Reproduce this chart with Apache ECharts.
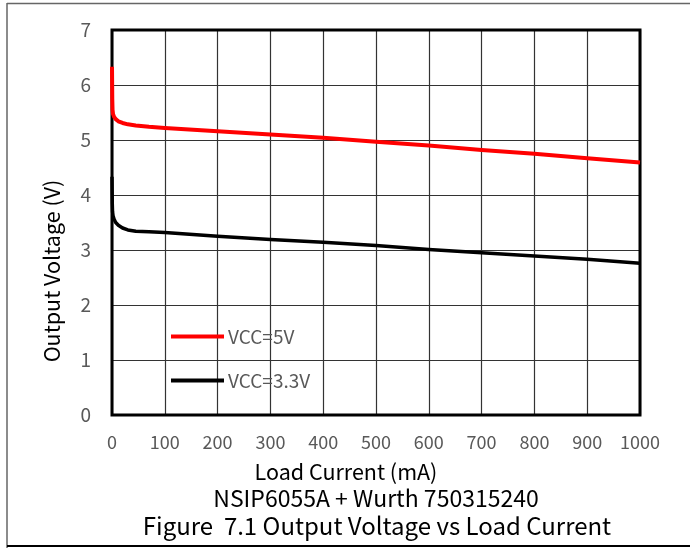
<!DOCTYPE html>
<html>
<head>
<meta charset="utf-8">
<script src="https://cdn.jsdelivr.net/npm/echarts@6/dist/echarts.min.js"></script>
<style>html,body{margin:0;padding:0;background:#fff}#c{width:690px;height:550px}</style>
</head>
<body>
<div id="c"></div>
<script>
const FONT = '"Noto Sans CJK SC", "Noto Sans", sans-serif';
const xTicks = [0, 100, 200, 300, 400, 500, 600, 700, 800, 900, 1000];
const yTicks = [0, 1, 2, 3, 4, 5, 6, 7];
const seriesNames = ['VCC=5V', 'VCC=3.3V'];
const current5V = [0, 0.5, 1, 2, 4, 7, 12, 20, 30, 45, 70, 100, 200, 300, 400, 500, 600, 700, 800, 900, 1000];
const voltage5V = [6.33, 5.75, 5.55, 5.47, 5.42, 5.38, 5.34, 5.31, 5.285, 5.265, 5.24, 5.22, 5.16, 5.10, 5.04, 4.97, 4.90, 4.82, 4.75, 4.67, 4.59];
const current33V = [0, 0.5, 1, 2, 4, 7, 12, 20, 30, 45, 70, 100, 200, 300, 400, 500, 600, 700, 800, 900, 1000];
const voltage33V = [4.33, 3.85, 3.7, 3.62, 3.56, 3.5, 3.45, 3.4, 3.365, 3.34, 3.33, 3.32, 3.25, 3.19, 3.14, 3.08, 3.01, 2.95, 2.89, 2.83, 2.76];

const pairs = (xs, ys) => xs.map((x, i) => [x, ys[i]]);
const chart = echarts.init(document.getElementById('c'), null, {renderer: 'canvas'});
chart.setOption({
  animation: false,
  textStyle: {fontFamily: FONT},
  grid: {left: 112, right: 50, top: 30, bottom: 135, show: true, borderColor: '#000', borderWidth: 3, z: 3},
  xAxis: {
    type: 'value', min: 0, max: 1000, interval: 100,
    axisLine: {show: false}, axisTick: {show: false},
    axisLabel: {color: '#595959', fontSize: 18, margin: 18, fontFamily: FONT,
      formatter: v => xTicks.includes(v) ? String(v) : ''},
    splitLine: {show: true, lineStyle: {color: '#333', width: 1.2}}
  },
  yAxis: {
    type: 'value', min: 0, max: 7, interval: 1,
    axisLine: {show: false}, axisTick: {show: false},
    axisLabel: {color: '#595959', fontSize: 19, margin: 21, fontFamily: FONT,
      formatter: v => yTicks.includes(v) ? String(v) : ''},
    splitLine: {show: true, lineStyle: {color: '#333', width: 1.2}}
  },
  legend: [
    {data: [seriesNames[0]], left: 171, top: 327, orient: 'vertical', icon: 'rect', itemWidth: 53, itemHeight: 4, itemGap: 5, padding: 0,
      textStyle: {color: '#595959', fontSize: 19, fontFamily: FONT, padding: [0, 0, 0, -1]}},
    {data: [seriesNames[1]], left: 171, top: 371, orient: 'vertical', icon: 'rect', itemWidth: 53, itemHeight: 4, itemGap: 5, padding: 0,
      textStyle: {color: '#595959', fontSize: 19, fontFamily: FONT, padding: [0, 0, 0, -1]}}
  ],
  series: [
    {name: seriesNames[0], type: 'line', data: pairs(current5V, voltage5V), showSymbol: false, smooth: false,
      lineStyle: {color: '#ff0000', width: 4, join: 'round'}, itemStyle: {color: '#ff0000'}, z: 4},
    {name: seriesNames[1], type: 'line', data: pairs(current33V, voltage33V), showSymbol: false, smooth: false,
      lineStyle: {color: '#000', width: 3.5, join: 'round'}, itemStyle: {color: '#000'}, z: 4}
  ],
  graphic: [
    {type: 'line', shape: {x1: 7, y1: 3.5, x2: 690, y2: 3.5}, style: {stroke: '#666', lineWidth: 1.5}},
    {type: 'line', shape: {x1: 7, y1: 3, x2: 7, y2: 548}, style: {stroke: '#666', lineWidth: 1.5}},
    {type: 'line', shape: {x1: 7, y1: 546, x2: 690, y2: 546}, style: {stroke: '#000', lineWidth: 2}},
    {type: 'text', x: 52, y: 271, rotation: Math.PI / 2, style: {text: 'Output Voltage (V)', fill: '#000', fontSize: 21.5, fontFamily: FONT, textAlign: 'center', textVerticalAlign: 'middle'}},
    {type: 'text', x: 346, y: 472, style: {text: 'Load Current (mA)', fill: '#000', fontSize: 21.5, fontFamily: FONT, textAlign: 'center', textVerticalAlign: 'middle'}},
    {type: 'text', x: 376, y: 498, style: {text: 'NSIP6055A + Wurth 750315240', fill: '#000', fontSize: 23, fontFamily: FONT, textAlign: 'center', textVerticalAlign: 'middle'}},
    {type: 'text', x: 377, y: 526, style: {text: 'Figure  7.1 Output Voltage vs Load Current', fill: '#000', fontSize: 24, fontFamily: FONT, textAlign: 'center', textVerticalAlign: 'middle'}}
  ]
});
</script>
</body>
</html>
